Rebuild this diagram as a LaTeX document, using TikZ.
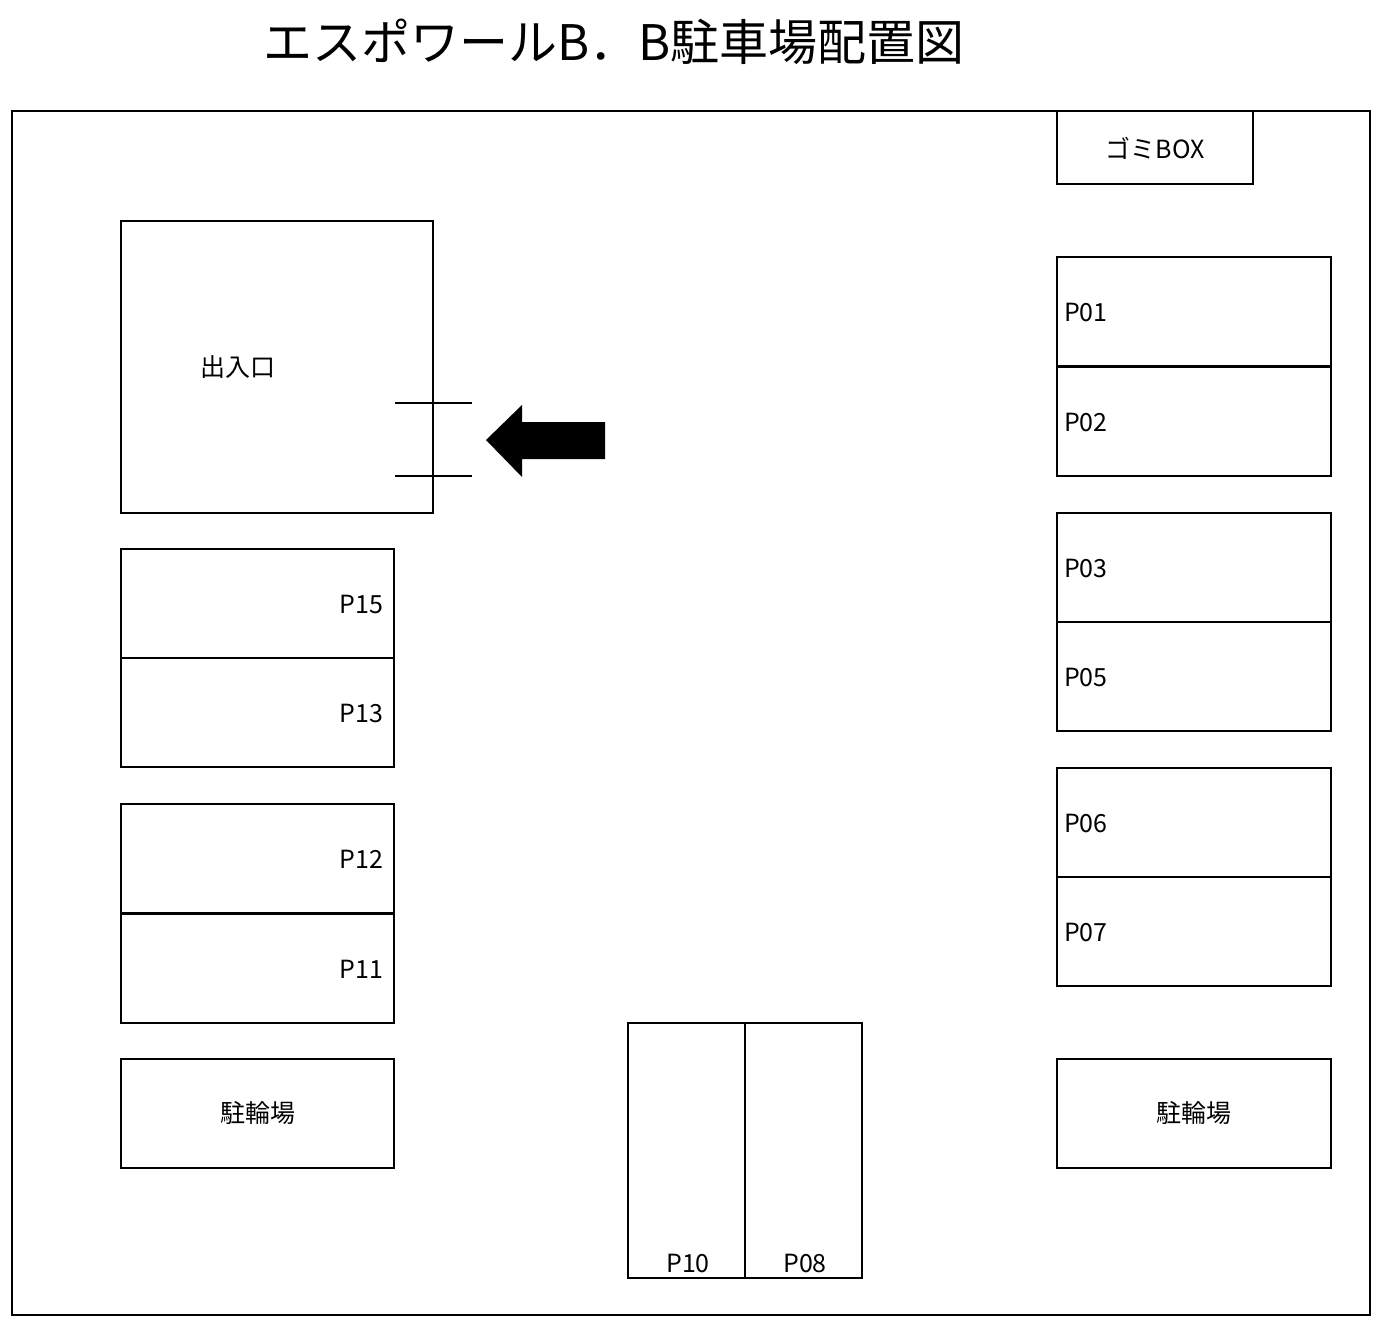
\documentclass[tikz,border=0pt]{standalone}
\usepackage{fontspec}
\setmainfont{Noto Sans CJK JP}
\tikzset{>=stealth}
\tikzset{
  lot/.style={draw, line width=1.3pt},
  lbl/.style={font=\fontsize{12.5}{14}\selectfont},
}
\begin{document}
\begin{tikzpicture}[x=0.5pt,y=-0.5pt]
\useasboundingbox (0,0) rectangle (1382,1328);
\node (title) at (614,42) {\fontsize{24.5}{28}\selectfont エスポワールB．B駐車場配置図};
\draw[lot] (12,111) rectangle (1370,1315);
% top right
\draw[lot] (1057,111) rectangle (1253,184);
\node[lbl] (gomi) at (1155,148) {ゴミBOX};
% entrance
\draw[lot] (121,221) rectangle (433,513);
\node[lbl] (entry) at (238,367) {出入口};
\draw[line width=1.3pt] (395,403) -- (472,403);
\draw[line width=1.3pt] (395,476) -- (472,476);
\fill (486,440) -- (522,405) -- (522,422) -- (605,422) -- (605,459) -- (522,459) -- (522,477) -- cycle;
% left lots
\foreach \y/\t in {549/P15,658/P13,804/P12,914/P11}
{
\draw[lot] (121,\y) rectangle (394,\y+109);
\node[lbl, anchor=east] at (390,\y+55) {\t};
}
\draw[lot] (121,1059) rectangle (394,1168);
\node[lbl] (bikeL) at (258,1113) {駐輪場};
% right lots
\foreach \y/\t in {257/P01,367/P02,513/P03,622/P05,768/P06,877/P07}
{
\draw[lot] (1057,\y) rectangle (1331,\y+109);
\node[lbl, anchor=west] at (1057,\y+55) {\t};
}
\draw[lot] (1057,1059) rectangle (1331,1168);
\node[lbl] (bikeR) at (1194,1113) {駐輪場};
% bottom lots
\draw[lot] (628,1023) rectangle (745,1278);
\draw[lot] (745,1023) rectangle (862,1278);
\node[lbl, anchor=south] (p10) at (688,1280) {P10};
\node[lbl, anchor=south] (p08) at (805,1280) {P08};
\end{tikzpicture}
\end{document}
